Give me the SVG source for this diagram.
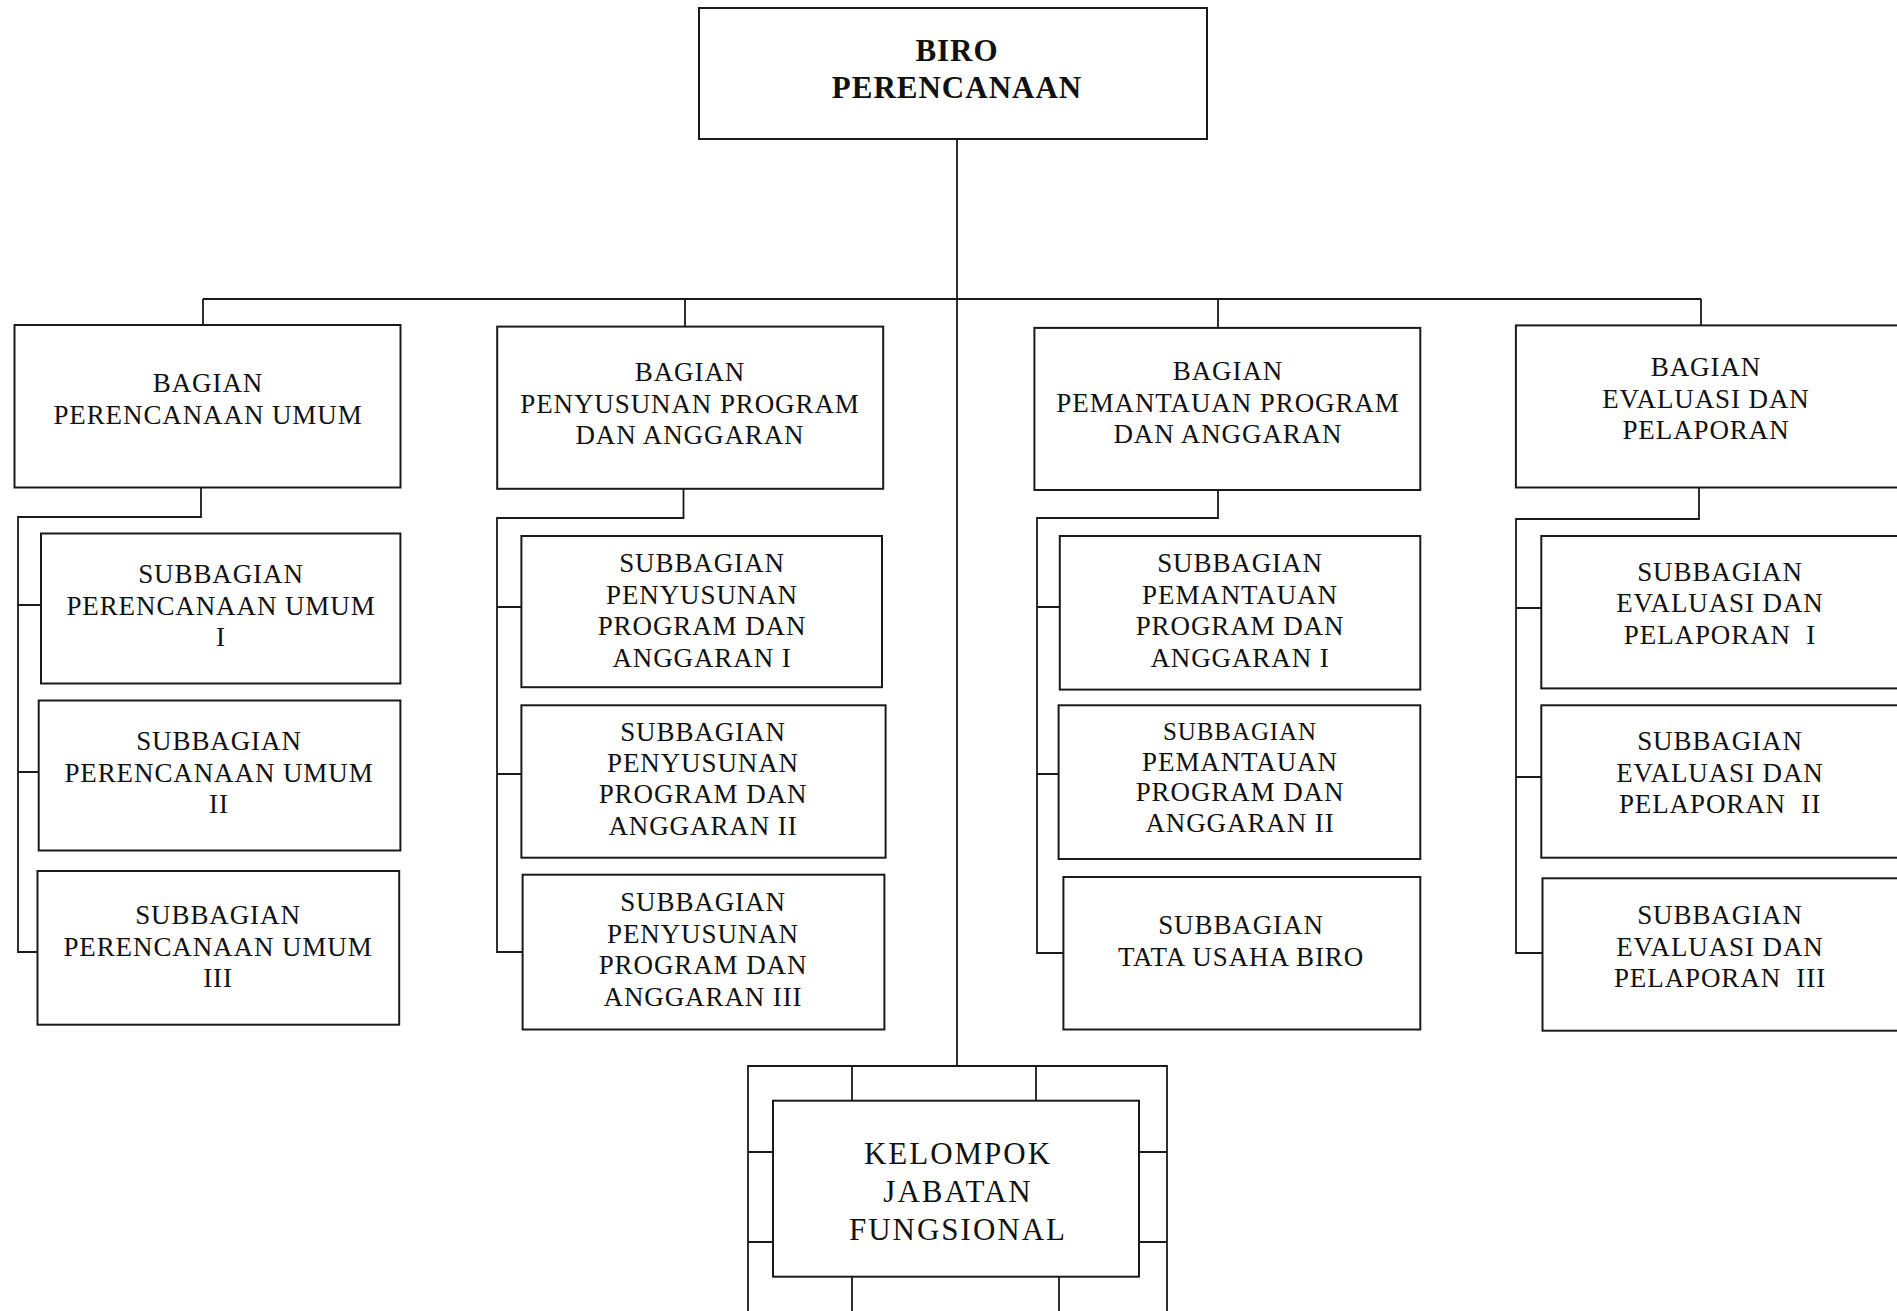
<svg xmlns="http://www.w3.org/2000/svg" width="1897" height="1311" viewBox="0 0 1897 1311">
  <style>
    .box { fill: #ffffff; stroke: #1a1a1a; stroke-width: 2; }
    .wire { fill: none; stroke: #1a1a1a; stroke-width: 1.8; }
    .t { font-family: "Liberation Serif", "Times New Roman", serif; font-size: 27px; letter-spacing: 0.9px; fill: #111; text-anchor: middle; }
    .head { font-family: "Liberation Serif", "Times New Roman", serif; font-size: 31px; font-weight: bold; letter-spacing: 1px; fill: #111; text-anchor: middle; }
    .big { font-family: "Liberation Serif", "Times New Roman", serif; font-size: 31px; letter-spacing: 2px; fill: #111; text-anchor: middle; }
  </style>
  <rect width="1897" height="1311" fill="#ffffff"/>

  <!-- connectors -->
  <g id="connectors">
    <path class="wire" d="M957 139 V1066"/>
    <path class="wire" d="M203 299 H1701 M203 299 V325 M685 299 V327 M1218 299 V328 M1701 299 V325"/>
    <!-- column 1 -->
    <path class="wire" d="M201 487 V517 H18 V952 H37.5 M18 605 H41 M18 772 H38.7"/>
    <!-- column 2 -->
    <path class="wire" d="M683.5 489 V518 H497 V952 H522.6 M497 607 H521.4 M497 774 H521.4"/>
    <!-- column 3 -->
    <path class="wire" d="M1218 490 V518 H1037 V953 H1063.4 M1037 607 H1059.8 M1037 774 H1058.6"/>
    <!-- column 4 -->
    <path class="wire" d="M1699 487 V519 H1516 V953 H1542.5 M1516 608 H1541.3 M1516 777 H1541.3"/>
    <!-- frame around functional group -->
    <path class="wire" d="M748 1320 V1066 H1167 V1320 M852 1066 V1101 M1036 1066 V1101 M748 1152 H773 M748 1242 H773 M1139 1152 H1167 M1139 1242 H1167 M852 1277 V1320 M1059 1277 V1320"/>
  </g>

  <!-- top -->
  <g id="biro">
    <rect class="box" x="699" y="8" width="508" height="131"/>
    <text class="head" x="957" y="61">BIRO</text>
    <text class="head" x="957" y="98">PERENCANAAN</text>
  </g>

  <!-- column 1 -->
  <g id="bagian-perencanaan-umum">
    <rect class="box" x="14.5" y="325" width="386" height="162.5"/>
    <text class="t" x="208" y="392">BAGIAN</text>
    <text class="t" x="208" y="424">PERENCANAAN UMUM</text>
  </g>
  <g id="sub-pu-1">
    <rect class="box" x="41" y="533.5" width="359.4" height="150"/>
    <text class="t" x="221" y="583">SUBBAGIAN</text>
    <text class="t" x="221" y="615">PERENCANAAN UMUM</text>
    <text class="t" x="221" y="646">I</text>
  </g>
  <g id="sub-pu-2">
    <rect class="box" x="38.7" y="700.5" width="361.7" height="150"/>
    <text class="t" x="219" y="750">SUBBAGIAN</text>
    <text class="t" x="219" y="782">PERENCANAAN UMUM</text>
    <text class="t" x="219" y="813">II</text>
  </g>
  <g id="sub-pu-3">
    <rect class="box" x="37.5" y="871" width="361.7" height="153.7"/>
    <text class="t" x="218" y="924">SUBBAGIAN</text>
    <text class="t" x="218" y="956">PERENCANAAN UMUM</text>
    <text class="t" x="218" y="987">III</text>
  </g>

  <!-- column 2 -->
  <g id="bagian-penyusunan">
    <rect class="box" x="497.2" y="326.6" width="386" height="162.2"/>
    <text class="t" x="690" y="381">BAGIAN</text>
    <text class="t" x="690" y="413">PENYUSUNAN PROGRAM</text>
    <text class="t" x="690" y="444">DAN ANGGARAN</text>
  </g>
  <g id="sub-ppa-1">
    <rect class="box" x="521.4" y="536" width="360.6" height="151.2"/>
    <text class="t" x="702" y="572">SUBBAGIAN</text>
    <text class="t" x="702" y="604">PENYUSUNAN</text>
    <text class="t" x="702" y="635">PROGRAM DAN</text>
    <text class="t" x="702" y="667">ANGGARAN I</text>
  </g>
  <g id="sub-ppa-2">
    <rect class="box" x="521.4" y="705.3" width="364.2" height="152.4"/>
    <text class="t" x="703" y="741">SUBBAGIAN</text>
    <text class="t" x="703" y="772">PENYUSUNAN</text>
    <text class="t" x="703" y="803">PROGRAM DAN</text>
    <text class="t" x="703" y="835">ANGGARAN II</text>
  </g>
  <g id="sub-ppa-3">
    <rect class="box" x="522.6" y="874.7" width="361.8" height="154.8"/>
    <text class="t" x="703" y="911">SUBBAGIAN</text>
    <text class="t" x="703" y="943">PENYUSUNAN</text>
    <text class="t" x="703" y="974">PROGRAM DAN</text>
    <text class="t" x="703" y="1006">ANGGARAN III</text>
  </g>

  <!-- column 3 -->
  <g id="bagian-pemantauan">
    <rect class="box" x="1034.4" y="327.9" width="385.9" height="162.1"/>
    <text class="t" x="1228" y="380">BAGIAN</text>
    <text class="t" x="1228" y="412">PEMANTAUAN PROGRAM</text>
    <text class="t" x="1228" y="443">DAN ANGGARAN</text>
  </g>
  <g id="sub-pem-1">
    <rect class="box" x="1059.8" y="536" width="360.5" height="153.6"/>
    <text class="t" x="1240" y="572">SUBBAGIAN</text>
    <text class="t" x="1240" y="604">PEMANTAUAN</text>
    <text class="t" x="1240" y="635">PROGRAM DAN</text>
    <text class="t" x="1240" y="667">ANGGARAN I</text>
  </g>
  <g id="sub-pem-2">
    <rect class="box" x="1058.6" y="705.3" width="361.7" height="153.7"/>
    <text class="t" x="1240" y="740" style="font-size:25px">SUBBAGIAN</text>
    <text class="t" x="1240" y="771">PEMANTAUAN</text>
    <text class="t" x="1240" y="801">PROGRAM DAN</text>
    <text class="t" x="1240" y="832">ANGGARAN II</text>
  </g>
  <g id="sub-tata-usaha">
    <rect class="box" x="1063.4" y="877" width="356.9" height="152.5"/>
    <text class="t" x="1241" y="934">SUBBAGIAN</text>
    <text class="t" x="1241" y="966">TATA USAHA BIRO</text>
  </g>

  <!-- column 4 -->
  <g id="bagian-evaluasi">
    <rect class="box" x="1515.9" y="325.4" width="400" height="162.1"/>
    <text class="t" x="1706" y="376">BAGIAN</text>
    <text class="t" x="1706" y="408">EVALUASI DAN</text>
    <text class="t" x="1706" y="439">PELAPORAN</text>
  </g>
  <g id="sub-ev-1">
    <rect class="box" x="1541.3" y="536" width="380" height="152.4"/>
    <text class="t" x="1720" y="581">SUBBAGIAN</text>
    <text class="t" x="1720" y="612">EVALUASI DAN</text>
    <text class="t" x="1720" y="644" xml:space="preserve">PELAPORAN  I</text>
  </g>
  <g id="sub-ev-2">
    <rect class="box" x="1541.3" y="705.3" width="380" height="152.4"/>
    <text class="t" x="1720" y="750">SUBBAGIAN</text>
    <text class="t" x="1720" y="782">EVALUASI DAN</text>
    <text class="t" x="1720" y="813" xml:space="preserve">PELAPORAN  II</text>
  </g>
  <g id="sub-ev-3">
    <rect class="box" x="1542.5" y="878.3" width="380" height="152.4"/>
    <text class="t" x="1720" y="924">SUBBAGIAN</text>
    <text class="t" x="1720" y="956">EVALUASI DAN</text>
    <text class="t" x="1720" y="987" xml:space="preserve">PELAPORAN  III</text>
  </g>

  <!-- functional group -->
  <g id="kelompok-jabatan-fungsional">
    <rect class="box" x="773" y="1100.7" width="366" height="176"/>
    <text class="big" x="958" y="1164">KELOMPOK</text>
    <text class="big" x="958" y="1202">JABATAN</text>
    <text class="big" x="958" y="1240">FUNGSIONAL</text>
  </g>
</svg>
